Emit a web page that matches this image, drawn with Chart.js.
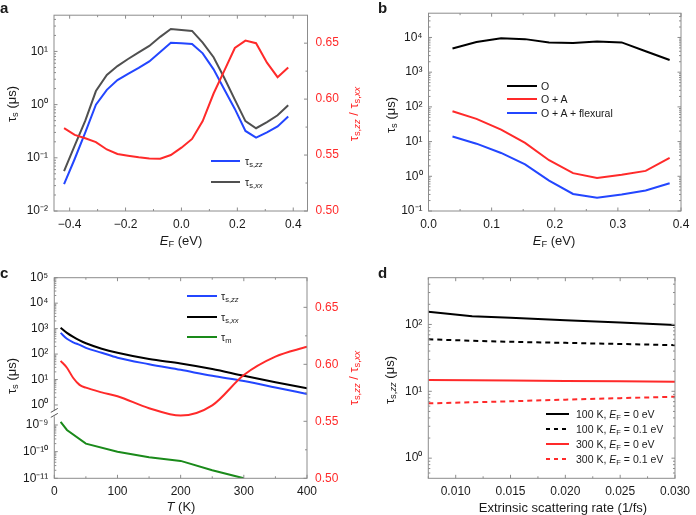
<!DOCTYPE html>
<html>
<head>
<meta charset="utf-8">
<script src="https://cdn.jsdelivr.net/npm/chart.js@4.4.1/dist/chart.umd.min.js"></script>
<style>
  html, body { margin: 0; padding: 0; background: #fff; }
  #wrap { position: relative; width: 696px; height: 515px; overflow: hidden;
          font-family: "Liberation Sans", Arial, sans-serif; color: #1a1a1a; }
  canvas { position: absolute; }
  .lbl { position: absolute; white-space: nowrap; line-height: 1; font-size: 13px; transform: translate(-50%, -50%); }
  .v { transform: translate(-50%, -50%) rotate(-90deg); }
  .panel { position: absolute; font-weight: bold; font-size: 15px; line-height: 1; }
  .leg { position: absolute; font-size: 10.5px; white-space: nowrap; line-height: 1; transform: translateY(-50%); }
  .sw { position: absolute; height: 2px; transform: translateY(-50%); }
  .red { color: #ff2020; }
  sub { font-size: 0.72em; vertical-align: -0.3em; line-height: 0; }
</style>
</head>
<body>
<div id="wrap">
  <canvas id="ca" width="348" height="258" style="left:0;top:0"></canvas>
  <canvas id="cb" width="348" height="258" style="left:348px;top:0"></canvas>
  <canvas id="cc" width="348" height="257" style="left:0;top:258px"></canvas>
  <canvas id="cd" width="348" height="257" style="left:348px;top:258px"></canvas>

  <div class="panel" style="left:0px;top:0px">a</div>
  <div class="panel" style="left:378px;top:0px">b</div>
  <div class="panel" style="left:0px;top:265px">c</div>
  <div class="panel" style="left:378px;top:265px">d</div>

  <!-- axis titles -->
  <div class="lbl v" style="left:11px;top:104px">τ<sub>s</sub> (μs)</div>
  <div class="lbl v red" style="left:353px;top:114px">τ<sub>s,<i>zz</i></sub> / τ<sub>s,<i>xx</i></sub></div>
  <div class="lbl" style="left:181px;top:240px"><i>E</i><sub>F</sub> (eV)</div>

  <div class="lbl v" style="left:390px;top:115px">τ<sub>s</sub> (μs)</div>
  <div class="lbl" style="left:554px;top:240px"><i>E</i><sub>F</sub> (eV)</div>

  <div class="lbl v" style="left:11px;top:376px">τ<sub>s</sub> (μs)</div>
  <div class="lbl v red" style="left:353px;top:378px">τ<sub>s,<i>zz</i></sub> / τ<sub>s,<i>xx</i></sub></div>
  <div class="lbl" style="left:181px;top:506px"><i>T</i> (K)</div>

  <div class="lbl v" style="left:389px;top:380px">τ<sub>s,<i>zz</i></sub> (μs)</div>
  <div class="lbl" style="left:563px;top:507px">Extrinsic scattering rate (1/fs)</div>

  <!-- legend a -->
  <div class="sw" style="left:211px;top:161px;width:29px;background:#2346ff"></div>
  <div class="leg" style="left:245px;top:161px">τ<sub>s,<i>zz</i></sub></div>
  <div class="sw" style="left:211px;top:182px;width:29px;background:#505050"></div>
  <div class="leg" style="left:245px;top:182px">τ<sub>s,<i>xx</i></sub></div>

  <!-- legend b -->
  <div class="sw" style="left:507px;top:86px;width:30px;background:#000"></div>
  <div class="leg" style="left:541px;top:86px">O</div>
  <div class="sw" style="left:507px;top:99px;width:30px;background:#ff2a2a"></div>
  <div class="leg" style="left:541px;top:99px">O + A</div>
  <div class="sw" style="left:507px;top:113px;width:30px;background:#2346ff"></div>
  <div class="leg" style="left:541px;top:113px">O + A + flexural</div>

  <!-- legend c -->
  <div class="sw" style="left:187px;top:296px;width:30px;background:#2346ff"></div>
  <div class="leg" style="left:221px;top:296px">τ<sub>s,<i>zz</i></sub></div>
  <div class="sw" style="left:187px;top:317px;width:30px;background:#000"></div>
  <div class="leg" style="left:221px;top:317px">τ<sub>s,<i>xx</i></sub></div>
  <div class="sw" style="left:187px;top:337px;width:30px;background:#1a8a1a"></div>
  <div class="leg" style="left:221px;top:337px">τ<sub>m</sub></div>

  <!-- legend d -->
  <div class="sw" style="left:546px;top:414px;width:23px;background:#000"></div>
  <div class="leg" style="left:576px;top:414px">100 K, <i>E</i><sub>F</sub> = 0 eV</div>
  <div class="sw" style="left:546px;top:429px;width:23px;background:repeating-linear-gradient(to right,#000 0 4px,transparent 4px 8px)"></div>
  <div class="leg" style="left:576px;top:429px">100 K, <i>E</i><sub>F</sub> = 0.1 eV</div>
  <div class="sw" style="left:546px;top:444px;width:23px;background:#ff2a2a"></div>
  <div class="leg" style="left:576px;top:444px">300 K, <i>E</i><sub>F</sub> = 0 eV</div>
  <div class="sw" style="left:546px;top:459px;width:23px;background:repeating-linear-gradient(to right,#ff2a2a 0 4px,transparent 4px 8px)"></div>
  <div class="leg" style="left:576px;top:459px">300 K, <i>E</i><sub>F</sub> = 0.1 eV</div>
</div>

<script>
// ---- panel a: spin lifetime vs Fermi level
const EF_A = [-0.42, -0.382, -0.344, -0.306, -0.267, -0.229, -0.191, -0.153, -0.115, -0.076, -0.038,
              0, 0.038, 0.076, 0.115, 0.153, 0.191, 0.229, 0.267, 0.306, 0.344, 0.382];
const TAU_ZZ_A = [0.032, 0.095, 0.3, 1.0, 1.9, 2.9, 3.8, 4.9, 6.5, 9.8, 14.6,
                  14.3, 13.8, 9.2, 4.6, 1.95, 0.83, 0.32, 0.24, 0.3, 0.39, 0.6];
const TAU_XX_A = [0.056, 0.17, 0.5, 1.8, 3.6, 5.3, 7.2, 9.6, 12.7, 18.8, 26.4,
                  25.3, 24.3, 14.6, 7.8, 3.2, 1.24, 0.49, 0.36, 0.47, 0.63, 0.97];
const RATIO_A = [0.574, 0.568, 0.565, 0.5616, 0.555, 0.551, 0.5494, 0.548, 0.547, 0.5468, 0.55,
                 0.5566, 0.5644, 0.5804, 0.605, 0.6253, 0.6457, 0.6523, 0.65, 0.6326, 0.6196, 0.6283];

// ---- panel b: phonon contributions
const EF_B = [0.038, 0.076, 0.115, 0.153, 0.191, 0.229, 0.267, 0.306, 0.344, 0.382];
const TAU_O_B = [4800, 7400, 9500, 8950, 7200, 6900, 7700, 7200, 4000, 2250];
const TAU_OA_B = [75, 45, 22, 9.2, 2.9, 1.23, 0.89, 1.1, 1.43, 3.4];
const TAU_OAF_B = [14, 8.7, 4.7, 2.2, 0.75, 0.31, 0.24, 0.3, 0.39, 0.63];

// ---- panel c: temperature dependence
const T_C = [10, 20, 30, 40, 50, 75, 100, 150, 200, 250, 300, 350, 400];
const TAU_ZZ_C = [680, 400, 290, 230, 175, 113, 72, 40, 24, 14, 8.8, 4.9, 2.7];
const TAU_XX_C = [1090, 680, 470, 345, 266, 163, 113, 64, 43, 26, 14, 7.8, 4.5];
const RATIO_C = [0.603, 0.597, 0.588, 0.582, 0.5795, 0.5754, 0.572, 0.5615, 0.555, 0.564, 0.5906, 0.6067, 0.6154];
const T_M_C = [10, 20, 50, 100, 150, 200, 250, 300];
const TAU_M_C = [1.3e-9, 6.5e-10, 2.0e-10, 1.0e-10, 6.2e-11, 4.5e-11, 2.0e-11, 1.0e-11];

// ---- panel d: extrinsic scattering
const RATE_D = [0.0075, 0.0115, 0.015, 0.02, 0.025, 0.03];
const D_100K_0 = [155, 133, 126, 116, 107, 98];
const D_100K_01 = [60, 57, 55, 53, 51, 49];
const D_300K_0 = [14.8, 14.6, 14.5, 14.3, 14.1, 13.9];
const D_300K_01 = [6.6, 6.85, 7.1, 7.5, 7.9, 8.3];

const BLUE = '#2346ff', RED = '#ff2a2a', GREY = '#505050', GREEN = '#1a8a1a', AXIS = '#8c8c8c';
const FONT = { family: '"Liberation Sans", Arial, sans-serif', size: 12 };

const SUP = { '0':'⁰','1':'¹','2':'²','3':'³','4':'⁴','5':'⁵','6':'⁶','7':'⁷','8':'⁸','9':'⁹','-':'⁻' };
const pow10 = n => '10' + String(n).split('').map(c => SUP[c]).join('');
const pts = (xs, ys) => xs.map((x, i) => ({ x: x, y: ys[i] }));
const fmtX = d => v => (v < 0 ? '\u2212' : '') + Math.abs(v).toFixed(d);

// broken axis in c: upper part is log10(v), lower part squeezed under the break
const LOW = v => (Math.log10(v) + 9) * 1.047 - 0.786;

function logMinors(min, max) {
  const out = [];
  for (let n = Math.floor(Math.log10(min)); n <= Math.ceil(Math.log10(max)); n++)
    for (let k = 2; k <= 9; k++) { const v = k * Math.pow(10, n); if (v > min && v < max) out.push(v); }
  return out;
}
function decades(a, b) { const o = []; for (let n = a; n <= b; n++) o.push(Math.pow(10, n)); return o; }

// frame + inward tick marks on all four sides
const framePlugin = {
  id: 'frame',
  afterDatasetsDraw(chart, args, opts) {
    const ctx = chart.ctx, a = chart.chartArea;
    ctx.save();
    ctx.strokeStyle = AXIS;
    ctx.lineWidth = 1;
    ctx.strokeRect(a.left, a.top, a.right - a.left, a.bottom - a.top);
    (opts.ticks || []).forEach(t => {
      const sc = chart.scales[t.scale];
      const mark = (vals, len) => vals.forEach(v => {
        const p = sc.getPixelForValue(v);
        ctx.beginPath();
        if (t.side === 'bottom') { ctx.moveTo(p, a.bottom); ctx.lineTo(p, a.bottom - len); }
        if (t.side === 'top') { ctx.moveTo(p, a.top); ctx.lineTo(p, a.top + len); }
        if (t.side === 'left') { ctx.moveTo(a.left, p); ctx.lineTo(a.left + len, p); }
        if (t.side === 'right') { ctx.moveTo(a.right, p); ctx.lineTo(a.right - len, p); }
        ctx.stroke();
      });
      mark(t.major, 3.5);
      mark(t.minor || [], 2);
    });
    if (opts.after) opts.after(chart, ctx);
    ctx.restore();
  }
};

function axis(extra) {
  return Object.assign({
    grid: { display: false, drawTicks: false },
    border: { display: false },
  }, extra, {
    ticks: Object.assign({ font: FONT, color: '#1a1a1a', padding: 6, autoSkip: false, maxRotation: 0 }, extra.ticks || {})
  });
}

function line(data, color, more) {
  return Object.assign({ data: data, borderColor: color, borderWidth: 2, pointRadius: 0, fill: false, tension: 0 }, more || {});
}

function make(id, datasets, scales, padding, ticks, after) {
  return new Chart(document.getElementById(id), {
    type: 'line',
    data: { datasets: datasets },
    options: {
      responsive: false, animation: false, events: [],
      layout: { padding: padding },
      plugins: { legend: { display: false }, tooltip: { enabled: false }, frame: { ticks: ticks, after: after } },
      scales: scales
    },
    plugins: [framePlugin]
  });
}

// ---------- a
const AX_A = [-0.4, -0.2, 0, 0.2, 0.4], AXm_A = [-0.3, -0.1, 0.1, 0.3];
const AY_A = decades(-2, 1), R_T = [0.5, 0.55, 0.6, 0.65], R_m = [0.525, 0.575, 0.625];
make('ca', [
  line(pts(EF_A, RATIO_A), RED, { yAxisID: 'y2' }),
  line(pts(EF_A, TAU_XX_A), GREY),
  line(pts(EF_A, TAU_ZZ_A), BLUE)
], {
  x: axis({ type: 'linear', min: -0.456, max: 0.451, afterFit: s => { s.height = 47; },
            afterBuildTicks: s => { s.ticks = AX_A.map(v => ({ value: v })); }, ticks: { callback: fmtX(1) } }),
  y: axis({ type: 'logarithmic', position: 'left', min: 0.01, max: 48, afterFit: s => { s.width = 54; },
            afterBuildTicks: s => { s.ticks = AY_A.map(v => ({ value: v })); },
            ticks: { callback: v => pow10(Math.round(Math.log10(v))) } }),
  y2: axis({ type: 'linear', position: 'right', min: 0.5, max: 0.675, afterFit: s => { s.width = 40.5; },
             afterBuildTicks: s => { s.ticks = R_T.map(v => ({ value: v })); },
             ticks: { color: RED, padding: 8, callback: v => v.toFixed(2) } })
}, { top: 10, left: 0, right: 0, bottom: 0 }, [
  { scale: 'x', side: 'bottom', major: AX_A, minor: AXm_A },
  { scale: 'x', side: 'top', major: AX_A, minor: AXm_A },
  { scale: 'y', side: 'left', major: AY_A, minor: logMinors(0.01, 48) },
  { scale: 'y2', side: 'right', major: R_T, minor: R_m }
]);

// ---------- b
const AX_B = [0, 0.1, 0.2, 0.3, 0.4], AXm_B = [0.05, 0.15, 0.25, 0.35];
const AY_B = decades(-1, 4);
make('cb', [
  line(pts(EF_B, TAU_O_B), '#000'),
  line(pts(EF_B, TAU_OA_B), RED),
  line(pts(EF_B, TAU_OAF_B), BLUE)
], {
  x: axis({ type: 'linear', min: 0, max: 0.4, afterFit: s => { s.height = 47; },
            afterBuildTicks: s => { s.ticks = AX_B.map(v => ({ value: v })); }, ticks: { callback: fmtX(1) } }),
  y: axis({ type: 'logarithmic', position: 'left', min: 0.1, max: 50000, afterFit: s => { s.width = 80.5; },
            afterBuildTicks: s => { s.ticks = AY_B.map(v => ({ value: v })); },
            ticks: { callback: v => pow10(Math.round(Math.log10(v))) } })
}, { top: 10, left: 0, right: 15, bottom: 0 }, [
  { scale: 'x', side: 'bottom', major: AX_B, minor: AXm_B },
  { scale: 'x', side: 'top', major: AX_B, minor: AXm_B },
  { scale: 'y', side: 'left', major: AY_B, minor: logMinors(0.1, 50000) },
  { scale: 'y', side: 'right', major: AY_B, minor: logMinors(0.1, 50000) }
]);

// ---------- c
const AX_C = [0, 100, 200, 300, 400], AXm_C = [50, 150, 250, 350];
const UP_EXP = [5, 4, 3, 2, 1, 0], LOW_EXP = [-9, -10, -11];
const AY_C = UP_EXP.concat(LOW_EXP.map(n => LOW(Math.pow(10, n))));
const AY_C_LBL = UP_EXP.concat(LOW_EXP).map(pow10);
const AYm_C = [];
for (let n = 0; n < 5; n++) for (let k = 2; k <= 9; k++) AYm_C.push(n + Math.log10(k));
for (let n = -11; n < -9; n++) for (let k = 2; k <= 9; k++) AYm_C.push(LOW(k * Math.pow(10, n)));
make('cc', [
  line(pts(T_C, RATIO_C), RED, { yAxisID: 'y2', cubicInterpolationMode: 'monotone' }),
  line(pts(T_C, TAU_XX_C.map(Math.log10)), '#000', { cubicInterpolationMode: 'monotone' }),
  line(pts(T_C, TAU_ZZ_C.map(Math.log10)), BLUE, { cubicInterpolationMode: 'monotone' }),
  line(pts(T_M_C, TAU_M_C.map(LOW)), GREEN)
], {
  x: axis({ type: 'linear', min: 0, max: 400, afterFit: s => { s.height = 36.7; },
            afterBuildTicks: s => { s.ticks = AX_C.map(v => ({ value: v })); }, ticks: { callback: v => String(v) } }),
  y: axis({ type: 'linear', position: 'left', min: LOW(1e-11), max: 5, afterFit: s => { s.width = 54.3; },
            afterBuildTicks: s => { s.ticks = AY_C.map(v => ({ value: v })); },
            ticks: { callback: (v, i) => AY_C_LBL[i] } }),
  y2: axis({ type: 'linear', position: 'right', min: 0.5, max: 0.676, afterFit: s => { s.width = 41; },
             afterBuildTicks: s => { s.ticks = R_T.map(v => ({ value: v })); },
             ticks: { color: RED, padding: 8, callback: v => v.toFixed(2) } })
}, { top: 19.7, left: 0, right: 0, bottom: 0 }, [
  { scale: 'x', side: 'bottom', major: AX_C, minor: AXm_C },
  { scale: 'x', side: 'top', major: AX_C, minor: AXm_C },
  { scale: 'y', side: 'left', major: AY_C, minor: AYm_C },
  { scale: 'y2', side: 'right', major: R_T, minor: R_m }
], (chart, ctx) => {
  // axis break marks
  const x = chart.chartArea.left, y = chart.scales.y.getPixelForValue(-0.33);
  ctx.fillStyle = '#fff';
  ctx.fillRect(x - 3, y - 3, 6, 6);
  ctx.strokeStyle = '#555';
  ctx.beginPath();
  ctx.moveTo(x - 3.5, y - 1); ctx.lineTo(x + 3.5, y - 5);
  ctx.moveTo(x - 3.5, y + 4); ctx.lineTo(x + 3.5, y);
  ctx.stroke();
});

// ---------- d
const AX_D = [0.01, 0.015, 0.02, 0.025, 0.03], AXm_D = [0.0075, 0.0125, 0.0175, 0.0225, 0.0275];
const AY_D = decades(0, 2);
make('cd', [
  line(pts(RATE_D, D_100K_0), '#000'),
  line(pts(RATE_D, D_100K_01), '#000', { borderDash: [5, 4] }),
  line(pts(RATE_D, D_300K_0), RED),
  line(pts(RATE_D, D_300K_01), RED, { borderDash: [5, 4] })
], {
  x: axis({ type: 'linear', min: 0.0075, max: 0.03, afterFit: s => { s.height = 36.7; },
            afterBuildTicks: s => { s.ticks = AX_D.map(v => ({ value: v })); }, ticks: { callback: fmtX(3) } }),
  y: axis({ type: 'logarithmic', position: 'left', min: 0.5, max: 500, afterFit: s => { s.width = 80.3; },
            afterBuildTicks: s => { s.ticks = AY_D.map(v => ({ value: v })); },
            ticks: { callback: v => pow10(Math.round(Math.log10(v))) } })
}, { top: 19.7, left: 0, right: 15.7, bottom: 0 }, [
  { scale: 'x', side: 'bottom', major: AX_D, minor: AXm_D },
  { scale: 'x', side: 'top', major: AX_D, minor: AXm_D },
  { scale: 'y', side: 'left', major: AY_D, minor: logMinors(0.5, 500) },
  { scale: 'y', side: 'right', major: AY_D, minor: logMinors(0.5, 500) }
]);
</script>
</body>
</html>
